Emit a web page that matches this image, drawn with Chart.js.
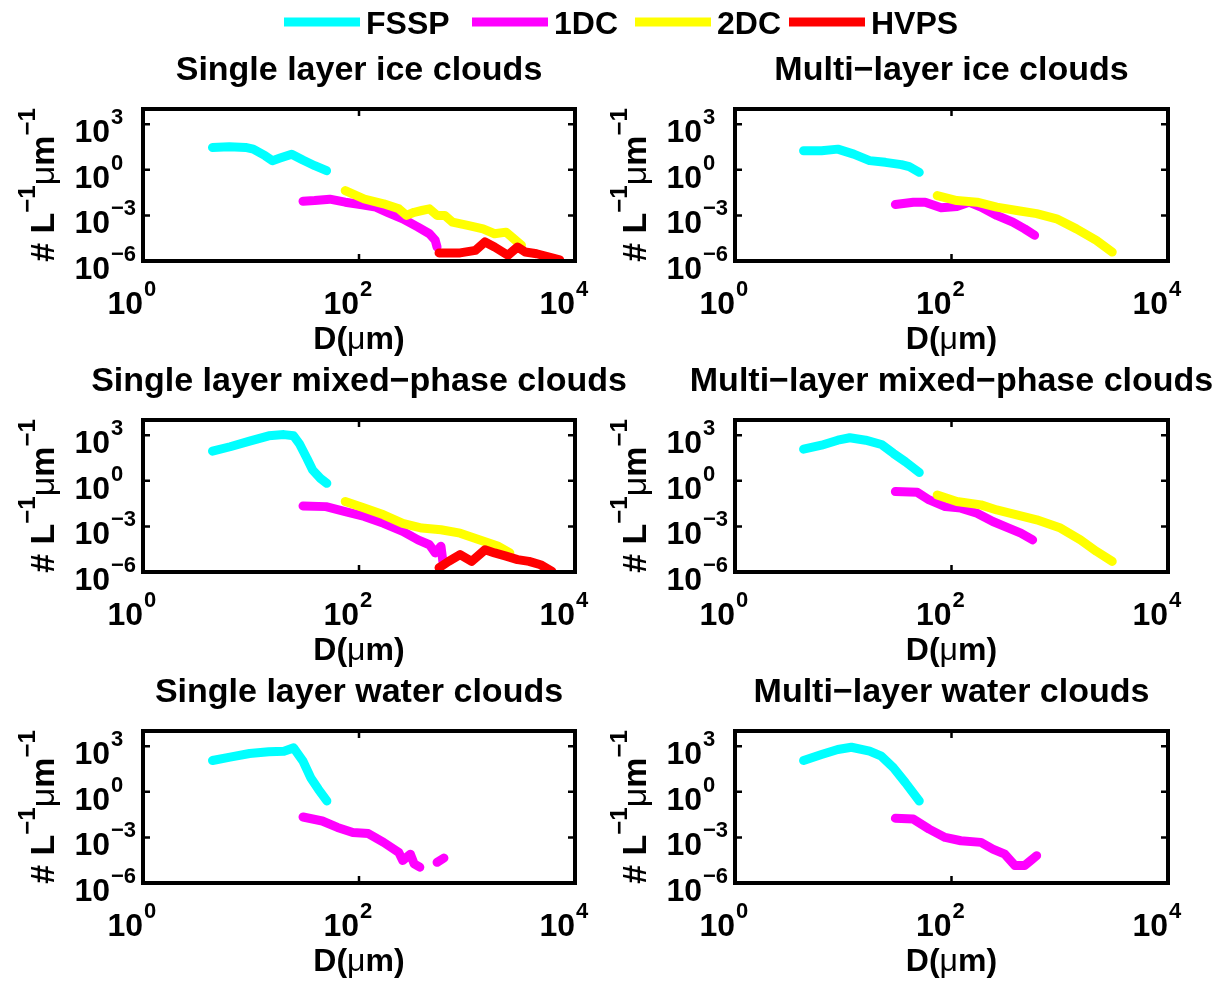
<!DOCTYPE html>
<html><head><meta charset="utf-8">
<script src="https://cdn.jsdelivr.net/npm/chart.js@4.4.0/dist/chart.umd.min.js"></script>
<style>
html,body{margin:0;padding:0;background:#fff;}
#wrap{position:relative;width:1222px;height:982px;overflow:hidden;background:#fff;}
#wrap canvas{position:absolute;left:0;}
</style></head><body><div id="wrap"></div>
<script>
// ---------- labels ----------
const seriesNames = ['FSSP', '1DC', '2DC', 'HVPS'];
const seriesColors = ['#00FFFF', '#FF00FF', '#FFFF00', '#FF0000'];
const panelTitles = ['Single layer ice clouds', 'Multi\u2212layer ice clouds',
  'Single layer mixed\u2212phase clouds', 'Multi\u2212layer mixed\u2212phase clouds',
  'Single layer water clouds', 'Multi\u2212layer water clouds'];
const xTickValues = [1, 100, 10000];
const xTickExp = ['0', '2', '4'];
const yTickValues = [1e3, 1, 1e-3, 1e-6];
const yTickExp = ['3', '0', '\u22123', '\u22126'];
const xRange = [1, 1e4];
const yRange = [1e-6, 1e4];

// ---------- data: D (um) and N (# L^-1 um^-1) ----------
// Panel 1: single layer ice
const p1_fssp_D = [4.4, 6.3, 8.9, 10.5, 13.5, 15.8, 18.6, 23.8, 30.2, 38.9, 50.1];
const p1_fssp_N = [29.5, 33, 29.5, 23, 8.5, 4.0, 5.9, 10.7, 4.4, 1.86, 0.87];
const p1_1dc_D = [30.3, 38.8, 53.7, 74.5, 103, 143, 183, 254, 352, 449, 508, 528];
const p1_1dc_N = [8.5e-3, 9.5e-3, 1.17e-2, 7.4e-3, 5.2e-3, 3.5e-3, 1.6e-3, 6.0e-4, 1.7e-4, 6.2e-5, 2.3e-5, 8.3e-6];
const p1_2dc_D = [74.5, 112, 169, 234, 275, 324, 382, 449, 528, 622, 733, 1016, 1409, 1799, 2301, 2710, 3192];
const p1_2dc_N = [4.3e-2, 1.2e-2, 5.8e-3, 2.7e-3, 1.0e-3, 1.6e-3, 2.1e-3, 2.7e-3, 1.0e-3, 1.0e-3, 3.6e-4, 2.2e-4, 1.3e-4, 6.2e-5, 7.9e-5, 2.9e-5, 1.1e-5];
const p1_hvps_D = [551, 863, 1197, 1469, 1799, 2393, 2938, 3459, 4416, 5649, 7211];
const p1_hvps_N = [3.4e-6, 3.4e-6, 5.0e-6, 1.8e-5, 8.3e-6, 2.4e-6, 8.3e-6, 3.9e-6, 3.0e-6, 1.9e-6, 1.2e-6];
// Panel 2: multi-layer ice
const p2_fssp_D = [4.3, 6.3, 8.9, 12.5, 17.5, 24.5, 34.4, 40.7, 50.4];
const p2_fssp_N = [17.8, 17.8, 22.9, 10.7, 4.0, 3.1, 2.2, 1.6, 0.68];
const p2_1dc_D = [30.3, 44.4, 57.1, 80.2, 112, 145, 187, 262, 368, 474, 586];
const p2_1dc_N = [5.2e-3, 7.4e-3, 7.4e-3, 3.2e-3, 3.9e-3, 7.4e-3, 3.5e-3, 1.0e-3, 3.6e-4, 1.3e-4, 4.9e-5];
const p2_2dc_D = [73.8, 112, 172, 262, 401, 612, 935, 1426, 2178, 3055];
const p2_2dc_N = [2.0e-2, 9.5e-3, 7.4e-3, 3.5e-3, 2.1e-3, 1.3e-3, 6.0e-4, 1.3e-4, 2.3e-5, 3.9e-6];
// Panel 3: single layer mixed-phase
const p3_fssp_D = [4.4, 6.4, 9.7, 14.6, 20.2, 24.8, 28.0, 33.0, 37.2, 43.9, 50.4];
const p3_fssp_N = [89, 174, 407, 912, 1096, 912, 282, 29.5, 5.1, 1.45, 0.68];
const p3_1dc_D = [30.3, 49.5, 74.5, 112, 169, 254, 352, 449, 508, 574, 598];
const p3_1dc_N = [2.2e-2, 2.0e-2, 9.5e-3, 4.5e-3, 1.6e-3, 4.7e-4, 1.3e-4, 6.2e-5, 1.8e-5, 4.9e-5, 5.0e-6];
const p3_2dc_D = [74.5, 112, 169, 254, 382, 574, 863, 1297, 1954, 2495];
const p3_2dc_N = [4.3e-2, 1.6e-2, 5.8e-3, 1.6e-3, 7.8e-4, 6.0e-4, 3.6e-4, 1.3e-4, 4.9e-5, 1.8e-5];
const p3_hvps_D = [551, 676, 863, 1104, 1469, 1799, 2301, 2938, 3750, 4797, 6124];
const p3_hvps_N = [1.9e-6, 5.0e-6, 1.4e-5, 5.0e-6, 2.9e-5, 1.8e-5, 1.1e-5, 6.5e-6, 5.0e-6, 3.0e-6, 1.1e-6];
// Panel 4: multi-layer mixed-phase
const p4_fssp_D = [4.3, 6.3, 8.9, 11.5, 16.1, 22.5, 29.1, 37.5, 50.4];
const p4_fssp_N = [120, 219, 468, 676, 468, 245, 63, 17.8, 3.5];
const p4_1dc_D = [30.3, 48.3, 62.2, 87.3, 122, 172, 241, 338, 437, 562];
const p4_1dc_N = [0.195, 0.174, 0.055, 0.020, 0.016, 7.4e-3, 2.1e-3, 7.8e-4, 3.6e-4, 1.3e-4];
const p4_2dc_D = [73.8, 112, 187, 262, 401, 612, 1016, 1552, 2178, 3055];
const p4_2dc_N = [0.117, 0.043, 0.026, 0.012, 5.8e-3, 2.7e-3, 7.8e-4, 1.3e-4, 2.3e-5, 5.0e-6];
// Panel 5: single layer water
const p5_fssp_D = [4.4, 6.4, 9.7, 14.6, 20.2, 24.8, 30.3, 35.7, 42.1, 50.4];
const p5_fssp_N = [115, 191, 331, 427, 468, 776, 105, 8.5, 1.45, 0.25];
const p5_1dc_D = [30.3, 45.7, 63.2, 87.7, 122, 169, 234, 254, 299, 324, 366, 450, 528, 612];
const p5_1dc_N = [2.2e-2, 1.2e-2, 4.5e-3, 2.1e-3, 1.8e-3, 4.7e-4, 1.0e-4, 3.0e-5, 7.9e-5, 1.8e-5, 1.1e-5, null, 2.3e-5, 4.4e-5];
// Panel 6: multi-layer water
const p6_fssp_D = [4.3, 6.3, 8.9, 11.9, 17.5, 22.5, 29.1, 37.5, 50.4];
const p6_fssp_N = [115, 282, 603, 851, 468, 219, 38, 4.0, 0.25];
const p6_1dc_D = [30.3, 44.4, 62.2, 87.3, 122, 187, 241, 311, 385, 474, 540, 612];
const p6_1dc_N = [1.8e-2, 1.6e-2, 3.5e-3, 1.0e-3, 6.0e-4, 4.7e-4, 1.7e-4, 7.9e-5, 1.4e-5, 1.4e-5, 3.0e-5, 6.3e-5];

const panelSeries = [
  [[p1_fssp_D, p1_fssp_N], [p1_1dc_D, p1_1dc_N], [p1_2dc_D, p1_2dc_N], [p1_hvps_D, p1_hvps_N]],
  [[p2_fssp_D, p2_fssp_N], [p2_1dc_D, p2_1dc_N], [p2_2dc_D, p2_2dc_N], null],
  [[p3_fssp_D, p3_fssp_N], [p3_1dc_D, p3_1dc_N], [p3_2dc_D, p3_2dc_N], [p3_hvps_D, p3_hvps_N]],
  [[p4_fssp_D, p4_fssp_N], [p4_1dc_D, p4_1dc_N], [p4_2dc_D, p4_2dc_N], null],
  [[p5_fssp_D, p5_fssp_N], [p5_1dc_D, p5_1dc_N], null, null],
  [[p6_fssp_D, p6_fssp_N], [p6_1dc_D, p6_1dc_N], null, null]
];

// ---------- layout ----------
const W = 1222;
const colLeft = [143, 735], colRight = [575, 1168];
const rowTop = [109, 420, 731], boxH = 152;
const canvasTop = [0, 340, 650], canvasH = [380, 360, 332];
const FONT = '"Liberation Sans", Arial, Helvetica, sans-serif';
const MAIN = 32, SUP = 22, SUPDY = -18, TITLE = 34, YLAB = 34, YSUP = 24;
const legendLineX = [284, 472, 635, 789];

function drawRuns(ctx, runs, x, y, align) {
  let w = 0;
  runs.forEach(r => { ctx.font = (r.wt || 'bold') + ' ' + r.s + 'px ' + FONT; r.width = ctx.measureText(r.t).width; w += r.width; });
  let cx = align === 'center' ? x - w / 2 : (align === 'right' ? x - w : x);
  ctx.textAlign = 'left'; ctx.textBaseline = 'alphabetic'; ctx.fillStyle = '#000';
  runs.forEach(r => { ctx.font = (r.wt || 'bold') + ' ' + r.s + 'px ' + FONT; ctx.fillText(r.t, cx, y + (r.dy || 0)); cx += r.width; });
}

function decorPlugin(pi) {
  return {
    id: 'decor' + pi,
    afterDraw(chart) {
      const ctx = chart.ctx, a = chart.chartArea, xs = chart.scales.x, ys = chart.scales.y;
      ctx.save();
      ctx.strokeStyle = '#000'; ctx.lineCap = 'butt';
      // tick marks
      ctx.lineWidth = 2.5;
      xTickValues.forEach(v => {
        const px = xs.getPixelForValue(v);
        ctx.beginPath(); ctx.moveTo(px, a.bottom); ctx.lineTo(px, a.bottom - 7);
        ctx.moveTo(px, a.top); ctx.lineTo(px, a.top + 7); ctx.stroke();
      });
      yTickValues.forEach(v => {
        const py = ys.getPixelForValue(v);
        ctx.beginPath(); ctx.moveTo(a.left, py); ctx.lineTo(a.left + 7, py);
        ctx.moveTo(a.right, py); ctx.lineTo(a.right - 7, py); ctx.stroke();
      });
      // box
      ctx.lineWidth = 4;
      ctx.strokeRect(a.left, a.top, a.right - a.left, a.bottom - a.top);
      // x tick labels
      xTickValues.forEach((v, i) => {
        const px = xs.getPixelForValue(v);
        drawRuns(ctx, [{t: '10', s: MAIN}], px, a.bottom + 53, 'right');
        drawRuns(ctx, [{t: xTickExp[i], s: SUP}], px + 1, a.bottom + 53 + SUPDY, 'left');
      });
      // y tick labels
      yTickValues.forEach((v, i) => {
        const py = ys.getPixelForValue(v);
        drawRuns(ctx, [{t: '10', s: MAIN}], a.left - 33, py + 18, 'right');
        drawRuns(ctx, [{t: yTickExp[i], s: SUP}], a.left - 32, py + 18 + SUPDY, 'left');
      });
      const cx = (a.left + a.right) / 2, cy = (a.top + a.bottom) / 2;
      // title
      drawRuns(ctx, [{t: panelTitles[pi], s: TITLE}], cx, a.top - 29, 'center');
      // x label
      drawRuns(ctx, [{t: 'D(', s: MAIN}, {t: '\u03bc', s: MAIN, wt: 'normal'}, {t: 'm)', s: MAIN}], cx, a.bottom + 88, 'center');
      // y label
      ctx.save();
      ctx.translate(a.left - 89, cy); ctx.rotate(-Math.PI / 2);
      drawRuns(ctx, [{t: '# L', s: YLAB}, {t: '\u22121', s: YSUP, dy: -19}, {t: '\u03bc', s: YLAB, wt: 'normal'}, {t: 'm', s: YLAB}, {t: '\u22121', s: YSUP, dy: -19}], 0, 0, 'center');
      ctx.restore();
      // legend (top)
      if (pi === 0) {
        seriesNames.forEach((n, k) => {
          const x0 = legendLineX[k];
          ctx.strokeStyle = seriesColors[k]; ctx.lineWidth = 9;
          ctx.beginPath(); ctx.moveTo(x0, 22); ctx.lineTo(x0 + 76, 22); ctx.stroke();
          drawRuns(ctx, [{t: n, s: MAIN}], x0 + 82, 34, 'left');
        });
      }
      ctx.restore();
    }
  };
}

const wrap = document.getElementById('wrap');
panelTitles.forEach((t, pi) => {
  const col = pi % 2, row = Math.floor(pi / 2);
  const cv = document.createElement('canvas');
  cv.width = W; cv.height = canvasH[row];
  cv.style.top = canvasTop[row] + 'px';
  cv.style.width = W + 'px'; cv.style.height = canvasH[row] + 'px';
  wrap.appendChild(cv);
  const padTop = rowTop[row] - canvasTop[row];
  const datasets = [];
  panelSeries[pi].forEach((s, k) => {
    if (!s) return;
    const D = s[0], N = s[1];
    datasets.push({
      label: seriesNames[k],
      data: D.map((d, i) => ({x: d, y: N[i]})),
      borderColor: seriesColors[k], backgroundColor: seriesColors[k],
      borderWidth: 9, pointRadius: 0, fill: false, tension: 0, spanGaps: false,
      borderCapStyle: 'round', borderJoinStyle: 'round', order: 4 - k
    });
  });
  new Chart(cv, {
    type: 'line',
    data: {datasets},
    options: {
      responsive: false, animation: false, devicePixelRatio: 1, events: [],
      layout: {padding: {left: colLeft[col], right: W - colRight[col], top: padTop, bottom: canvasH[row] - padTop - boxH}},
      plugins: {legend: {display: false}, tooltip: {enabled: false}, title: {display: false}},
      scales: {
        x: {type: 'logarithmic', min: xRange[0], max: xRange[1], display: false},
        y: {type: 'logarithmic', min: yRange[0], max: yRange[1], display: false}
      }
    },
    plugins: [decorPlugin(pi)]
  });
});
</script></body></html>
